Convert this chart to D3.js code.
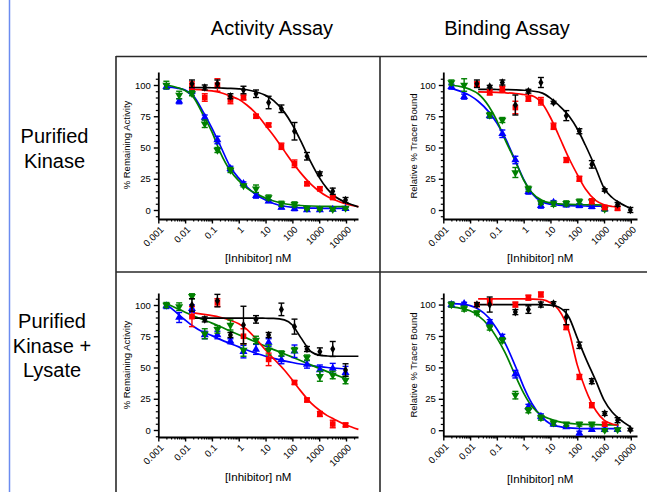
<!DOCTYPE html>
<html>
<head>
<meta charset="utf-8" />
<script src="https://cdn.jsdelivr.net/npm/d3@7"></script>
<style>
  body { margin: 0; background: #fff; }
  svg { display: block; font-family: "Liberation Sans", Arial, sans-serif; }
  .axis path, .axis line { stroke: #000; }
</style>
</head>
<body>
<svg id="fig" width="647" height="492"></svg>
<script>
// inhibitor concentrations (nM), 3-fold dilution series
const conc = [0.002, 0.006, 0.018, 0.054, 0.16, 0.49, 1.5, 4.4, 13, 39, 120, 350, 1060, 3200, 9600];
const fitConc = [0.002, 0.005, 0.01, 0.02, 0.05, 0.1, 0.2, 0.5, 1, 2, 5, 10, 20, 50, 100, 200, 500, 1000, 2000, 3500, 10000, 17000, 29000];

const xTicks = [0.001, 0.01, 0.1, 1, 10, 100, 1000, 10000];
const xTickLabels = ["0.001", "0.01", "0.1", "1", "10", "100", "1000", "10000"];
const yTicks = [0, 25, 50, 75, 100];

// Activity assay, purified kinase
const p1Blue = [98.7, 87, 95, 74, 56, 33, 21, 11.5, 7, 2, 1, 0, 0, 0.5, 1];
const p1BlueErr = [2, 2, 2, 2, 3, 2, 1.5, 2, 1, 1, 1.5, 1, 1, 1, 1];
const p1Green = [100, 92, 93.4, 69, 48, 32, 19.5, 17, 10, 5, 4.5, 1.3, 1, 0.5, 1.5];
const p1GreenErr = [3, 3, 2, 3, 2, 2, 1, 3, 2, 2, 2, 1, 1, 1, 1];
const p1Red = [null, null, 99.5, 90, 100, 88, 90, 75, 68, 51, 37, 21, 17, 10, null];
const p1RedErr = [null, null, 3, 3, 5, 3, 2, 1.5, 1.5, 2.5, 3, 1.5, 1.5, 1.5, null];
const p1Black = [null, null, 101, 98, 101, 91, 96, 93, 86, 81, 63, 43, 29, 15, 8];
const p1BlackErr = [null, null, 3, 2, 3, 2, 3, 3, 5, 3, 7, 3, 1.5, 2.5, 2];
const p1BlueFit = [98.5, 97.5, 96, 91.5, 77.5, 65.5, 52, 34, 25.5, 18.5, 11.5, 8, 5.2, 3, 2.1, 1.7, 1.5, 1.4, 1.3, 1.3, 1.3, null, null];
const p1GreenFit = [100, 98, 95.5, 90.5, 75, 62.5, 46.5, 31, 23.5, 17.5, 12.5, 9.5, 7.2, 5, 4.1, 3.6, 3.2, 3, 2.9, 2.8, 2.7, null, null];
const p1RedFit = [null, null, null, 96.5, 96, 95.3, 94, 91, 88.5, 84, 76, 67.6, 59.4, 47.3, 38.2, 29.9, 20.5, 15, 10.8, 8.4, 4.8, 3.6, 2.7];
const p1BlackFit = [null, null, null, 98, 97.9, 97.8, 97.6, 97.3, 96.9, 96.2, 94.2, 91.7, 87.5, 78.3, 68.2, 55.7, 37.9, 26.1, 16.9, 11.6, 6.0, 4.2, 2.4];

// Binding assay, purified kinase
const p2Blue = [98.7, 90.7, null, 75.5, 61, 40, 14.7, 3.5, 6, 4, 3.5, 2.7, 0.8, null, null];
const p2BlueErr = [2, 2, null, 2, 3, 3, 2, 2, 1.5, 1.5, 1.5, 1.5, 1.5, null, null];
const p2Green = [102, 100, null, 76, 72, 30, 17, 6, 5, 5.3, 6.7, 6.7, 0.8, null, null];
const p2GreenErr = [2, 5, null, 2, 2, 4, 2, 1.5, 2, 2, 2, 2, 1.5, null, null];
const p2Red = [null, null, 100.5, 94, 97, 82, 89, 87, 67, 40, 25, 7, 2, 1.3, null];
const p2RedErr = [null, null, 2, 2, 2, 5, 2, 3, 2.5, 2, 2, 2, 1.5, 1.5, null];
const p2Black = [null, null, 101, 98.7, 102, 84, 95, 102, 86, 75.5, 63, 36.5, 16, 4.5, 0];
const p2BlackErr = [null, null, 3, 1, 2, 8, 1.5, 4, 1, 4, 2, 3, 1, 1.5, 2];
const p2BlueFit = [97.3, 94.5, 91.5, 87, 78.5, 69.5, 58, 39, 24.5, 13.5, 6.5, 4.6, 3.9, 3.5, 3.3, 3.2, 3.1, 3.1, null, null, null, null, null];
const p2GreenFit = [99.8, 98.5, 96.5, 93, 83, 71.5, 56.5, 38.5, 24, 14, 7.5, 5.6, 4.9, 4.5, 4.3, 4.2, 4.1, 4.0, null, null, null, null, null];
const p2RedFit = [null, null, null, 94.5, 94.3, 94.1, 93.8, 93.2, 92.4, 91.5, 85, 74, 60, 41, 28.5, 17, 7.5, 4.2, 2.8, 2.3, null, null, null];
const p2BlackFit = [null, null, null, 96.5, 96.5, 96.4, 96.3, 96.1, 95.8, 95.2, 93.5, 89.5, 84, 75, 65, 52, 33, 17.5, 10, 6.2, 1.3, null, null];

// Activity assay, purified kinase + lysate
const p3Blue = [99.2, 90, 97, 76, 76, 71, 62.7, 64.5, 70, 56, 63, 52.5, 48, 49.3, 45.9];
const p3BlueErr = [2, 4, 3, 3, 3, 2, 5, 4, 3, 3, 5, 3, 4, 4, 5];
const p3Green = [100, 98.7, 107, 77, 80.5, 84, 64, 72, 64, 61.3, 64, 58, 43, 44, 40];
const p3GreenErr = [2, 3, 2, 4, 3, 4, 5, 3, 4, 2, 2, 2, 4, 3, 3];
const p3Red = [null, null, 90.7, null, 102, null, 75, null, 56.5, null, 38, 24, 12.8, 4.8, 4];
const p3RedErr = [null, null, 8, null, 3, null, 6, null, 5, null, 1.5, 1.5, 2, 3, 1.5];
const p3Black = [null, null, 100, 88.5, 103.5, 76, 84, 88.5, 76, 96.5, 82.7, 64.8, 62.7, 64.8, 48];
const p3BlackErr = [null, null, 5, 2, 5, 2, 15, 3, 2, 5, 6, 2, 3, 6, 5];
const p3BlueFit = [100.5, 93.5, 88, 83, 78, 75.5, 72.5, 69, 66.5, 64, 61, 59, 57.3, 55.3, 54, 52.8, 51.5, 50.7, 50, 49.6, 48.8, null, null];
const p3GreenFit = [101.2, 97.2, 94.2, 91.4, 88, 85.5, 82.8, 79, 76.2, 73.5, 69.8, 67, 64.3, 60.9, 58.3, 55.6, 52, 49.3, 46.7, 44.7, 41, null, null];
const p3RedFit = [null, null, null, 93.7, 92.5, 91.5, 90.2, 87.7, 85, 80.5, 71.5, 64, 57, 48, 40, 31.5, 21.5, 16, 11.5, 8.8, 4, 2.2, 0.5];
const p3BlackFit = [null, null, null, 89.5, 89.5, 89.5, 89.5, 89.5, 89.5, 89.5, 89.5, 89.4, 89.3, 88.1, 84, 74.3, 62.6, 59.9, 59.2, 59, 59, 59, 59];

// Binding assay, purified kinase + lysate
const p4Blue = [100, 100.8, null, 86, 74.3, 44.6, 18.6, 11, 4.8, 2.7, -2.3, 0.5, 0.5, 0.5, null];
const p4BlueErr = [2, 1, null, 2, 2, 3, 2, 2, 1.5, 1, 1.5, 1, 1, 1, null];
const p4Green = [100, 96.8, 93.4, 81.7, 71.6, 27.9, 15.9, 10, 5.8, 4.8, 4.8, 4.8, 0, 0.5, null];
const p4GreenErr = [2, 2, 1.5, 2, 2, 3, 2, 2, 2, 1.5, 1.5, 1.5, 1, 1, null];
const p4Red = [null, null, 100, 102, null, 100, 105.5, 108, null, 82, 42.4, 19.9, 4.8, null, null];
const p4RedErr = [null, null, 1.5, 2, null, 2, 2, 2, null, 2, 2, 2, 1.5, null, null];
const p4Black = [null, null, 100, 100, null, 94, 96, 100, 100.8, 90, 67.6, 39, 13.3, 8, 0.5];
const p4BlackErr = [null, null, 1.5, 6, null, 2, 3, 2, 1.5, 6, 2.5, 2, 1.5, 2, 1];
const p4BlueFit = [100.8, 100.3, 99.2, 96.5, 89.5, 80.5, 69.5, 50.5, 34.5, 21.5, 10, 5, 3, 1.9, 1.5, 1.3, 1.2, 1.2, 1.2, 1.2, null, null, null];
const p4GreenFit = [98.1, 96.8, 95, 91.2, 83, 73.5, 62, 43, 29.5, 19, 11.5, 8.8, 6.8, 5.4, 4.9, 4.6, 4.4, 4.3, 4.2, 4.2, null, null, null];
const p4RedFit = [null, null, null, 104.5, 104.5, 104.5, 104.5, 104.5, 104.5, 104.4, 104, 101.5, 96, 78, 52, 33, 15.5, 8, 5, 3.8, null, null, null];
const p4BlackFit = [null, null, null, 100, 100, 100, 100, 100, 100, 100, 99.9, 99.5, 98, 89.5, 73.5, 58, 39, 24, 14.5, 9.5, 2.6, null, null];

const svg = d3.select("#fig");

// blue margin rule on the left and the table grid
svg.append("line")
    .attr("x1", 9.5).attr("x2", 9.5).attr("y1", 0).attr("y2", 492)
    .attr("stroke", "#6b8cf0").attr("stroke-width", 1.5);

const grid = svg.append("g").attr("stroke", "#2a2a2a").attr("stroke-width", 1.6);
grid.append("line").attr("x1", 116).attr("x2", 647).attr("y1", 56.5).attr("y2", 56.5);
grid.append("line").attr("x1", 116).attr("x2", 116).attr("y1", 56).attr("y2", 492);
grid.append("line").attr("x1", 380).attr("x2", 380).attr("y1", 56).attr("y2", 492);
grid.append("line").attr("x1", 116).attr("x2", 647).attr("y1", 272).attr("y2", 272);

// column headers
svg.append("text").attr("x", 272).attr("y", 35).attr("text-anchor", "middle")
    .attr("font-size", 20).text("Activity Assay");
svg.append("text").attr("x", 507).attr("y", 35).attr("text-anchor", "middle")
    .attr("font-size", 20).text("Binding Assay");

// row headers
const rowLabel = (lines, cx, y0) => {
    const t = svg.append("text").attr("text-anchor", "middle").attr("font-size", 20);
    lines.forEach((s, i) => t.append("tspan").attr("x", cx).attr("y", y0 + i * 24.5).text(s));
};
rowLabel(["Purified", "Kinase"], 54.5, 143);
rowLabel(["Purified", "Kinase +", "Lysate"], 52, 328);

const colors = { blue: "#0000ff", green: "#008000", red: "#ff0000", black: "#000000" };

const panels = [
    { left: 158.3, right: 358, top: 72, bottom: 219, xMax: 28000, yDomain: [-7.2, 110.4],
      ylab: "% Remaining Activity", ylabX: 130, ylabY: 145, xlabY: 262,
      series: [
        { c: "blue", v: p1Blue, e: p1BlueErr, fit: p1BlueFit },
        { c: "green", v: p1Green, e: p1GreenErr, fit: p1GreenFit },
        { c: "red", v: p1Red, e: p1RedErr, fit: p1RedFit },
        { c: "black", v: p1Black, e: p1BlackErr, fit: p1BlackFit }] },
    { left: 443.3, right: 637, top: 72, bottom: 219, xMax: 17000, yDomain: [-7.2, 110.4],
      ylab: "Relative % Tracer Bound", ylabX: 417, ylabY: 146, xlabY: 262,
      series: [
        { c: "blue", v: p2Blue, e: p2BlueErr, fit: p2BlueFit },
        { c: "green", v: p2Green, e: p2GreenErr, fit: p2GreenFit },
        { c: "red", v: p2Red, e: p2RedErr, fit: p2RedFit },
        { c: "black", v: p2Black, e: p2BlackErr, fit: p2BlackFit }] },
    { left: 158.3, right: 358, top: 293, bottom: 437, xMax: 28000, yDomain: [-5.6, 109.6],
      ylab: "% Remaining Activity", ylabX: 130, ylabY: 365, xlabY: 481,
      series: [
        { c: "blue", v: p3Blue, e: p3BlueErr, fit: p3BlueFit },
        { c: "green", v: p3Green, e: p3GreenErr, fit: p3GreenFit },
        { c: "red", v: p3Red, e: p3RedErr, fit: p3RedFit },
        { c: "black", v: p3Black, e: p3BlackErr, fit: p3BlackFit }] },
    { left: 443.3, right: 637, top: 293, bottom: 436, xMax: 17000, yDomain: [-4.6, 109.2],
      ylab: "Relative % Tracer Bound", ylabX: 417, ylabY: 365, xlabY: 483,
      series: [
        { c: "blue", v: p4Blue, e: p4BlueErr, fit: p4BlueFit },
        { c: "green", v: p4Green, e: p4GreenErr, fit: p4GreenFit },
        { c: "red", v: p4Red, e: p4RedErr, fit: p4RedFit },
        { c: "black", v: p4Black, e: p4BlackErr, fit: p4BlackFit }] }
];

const symbolFor = {
    blue: { type: d3.symbolTriangle, size: 28, rot: 0 },
    green: { type: d3.symbolTriangle, size: 28, rot: 180 },
    red: { type: d3.symbolSquare, size: 32, rot: 0 },
    black: { type: d3.symbolDiamond, size: 22, rot: 0 }
};

function drawPanel(p) {
    const x = d3.scaleLog().domain([0.001, p.xMax]).range([p.left, p.right]);
    const y = d3.scaleLinear().domain(p.yDomain).range([p.bottom, p.top]);
    const g = svg.append("g");

    // minor ticks
    const xMinor = [];
    for (let k = -3; k <= 4; k++) {
        for (let m = 2; m <= 9; m++) {
            const v = m * Math.pow(10, k);
            if (v < p.xMax) xMinor.push(v);
        }
    }
    const yMinor = d3.range(-5, 110, 5).filter(v => v % 25 !== 0 && v >= p.yDomain[0] && v <= p.yDomain[1]);

    g.append("g").attr("class", "axis")
        .attr("transform", `translate(0,${p.bottom})`)
        .call(d3.axisBottom(x).tickValues(xMinor).tickFormat("").tickSize(2.5).tickSizeOuter(0))
        .call(a => a.select(".domain").remove())
        .selectAll("line").attr("stroke-width", 1.2);

    const xa = g.append("g").attr("class", "axis")
        .attr("transform", `translate(0,${p.bottom})`)
        .call(d3.axisBottom(x).tickValues(xTicks).tickFormat((d, i) => xTickLabels[i]).tickSize(4.5).tickSizeOuter(0));
    xa.select(".domain").attr("stroke-width", 1.8);
    xa.selectAll("line").attr("stroke-width", 1.4);
    xa.selectAll("text")
        .attr("font-size", 9.5)
        .attr("font-family", "'Liberation Sans', Arial, sans-serif")
        .attr("fill", "#000")
        .attr("text-anchor", "end")
        .attr("x", 0).attr("y", 0).attr("dy", "0.35em")
        .attr("transform", "translate(3,9) rotate(-45)");

    g.append("g").attr("class", "axis")
        .attr("transform", `translate(${p.left},0)`)
        .call(d3.axisLeft(y).tickValues(yMinor).tickFormat("").tickSize(2.5).tickSizeOuter(0))
        .call(a => a.select(".domain").remove())
        .selectAll("line").attr("stroke-width", 1.2);

    const ya = g.append("g").attr("class", "axis")
        .attr("transform", `translate(${p.left},0)`)
        .call(d3.axisLeft(y).tickValues(yTicks).tickSize(4.5).tickSizeOuter(0));
    ya.select(".domain").attr("stroke-width", 1.8);
    ya.selectAll("line").attr("stroke-width", 1.4);
    ya.selectAll("text")
        .attr("font-size", 9.5)
        .attr("font-family", "'Liberation Sans', Arial, sans-serif")
        .attr("fill", "#000");

    // axis titles
    g.append("text")
        .attr("x", (p.left + p.right) / 2).attr("y", p.xlabY)
        .attr("text-anchor", "middle").attr("font-size", 11.5)
        .text("[Inhibitor] nM");
    g.append("text")
        .attr("transform", `translate(${p.ylabX},${p.ylabY}) rotate(-90)`)
        .attr("text-anchor", "middle").attr("font-size", 9.5)
        .text(p.ylab);

    // fitted curves
    const line = d3.line()
        .defined(d => d[1] != null)
        .x(d => x(d[0]))
        .y(d => y(d[1]))
        .curve(d3.curveMonotoneX);
    p.series.forEach(s => {
        g.append("path")
            .datum(fitConc.map((c, i) => [c, s.fit[i]]))
            .attr("fill", "none")
            .attr("stroke", colors[s.c])
            .attr("stroke-width", 1.7)
            .attr("d", line);
    });

    // error bars and points
    p.series.forEach(s => {
        const pts = conc.map((c, i) => ({ c, v: s.v[i], e: s.e[i] })).filter(d => d.v != null);
        const sg = g.append("g").attr("stroke", colors[s.c]).attr("fill", colors[s.c]);
        pts.filter(d => d.e != null).forEach(d => {
            const xx = x(d.c), y1 = y(d.v - d.e), y2 = y(d.v + d.e);
            sg.append("line").attr("x1", xx).attr("x2", xx).attr("y1", y1).attr("y2", y2).attr("stroke-width", 1.4);
            sg.append("line").attr("x1", xx - 3).attr("x2", xx + 3).attr("y1", y1).attr("y2", y1).attr("stroke-width", 1.4);
            sg.append("line").attr("x1", xx - 3).attr("x2", xx + 3).attr("y1", y2).attr("y2", y2).attr("stroke-width", 1.4);
        });
        const sym = symbolFor[s.c];
        sg.selectAll("path.pt").data(pts).join("path")
            .attr("class", "pt")
            .attr("stroke", "none")
            .attr("transform", d => `translate(${x(d.c)},${y(d.v)}) rotate(${sym.rot})`)
            .attr("d", d3.symbol().type(sym.type).size(sym.size));
    });
}

panels.forEach(drawPanel);
</script>
</body>
</html>
